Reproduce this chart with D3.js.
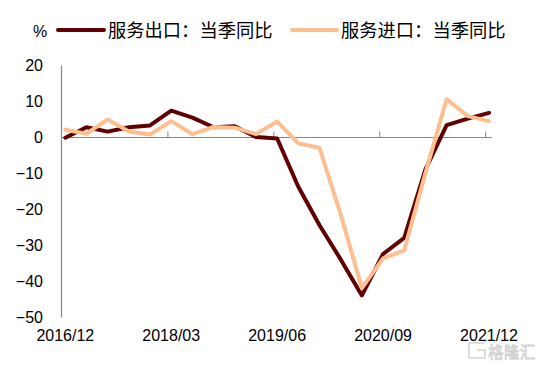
<!DOCTYPE html>
<html><head><meta charset="utf-8">
<script src="https://cdn.jsdelivr.net/npm/d3@7/dist/d3.min.js"></script>
<style>html,body{margin:0;padding:0;background:#fff}svg{display:block}</style>
</head><body><svg id="c" width="541" height="366"></svg>
<script>
const categories = ["2016/12","2017/03","2017/06","2017/09","2017/12","2018/03","2018/06","2018/09","2018/12","2019/03","2019/06","2019/09","2019/12","2020/03","2020/06","2020/09","2020/12","2021/03","2021/06","2021/09","2021/12"];
const tickLabels = ["2016/12","2018/03","2019/06","2020/09","2021/12"];
const yTicks = [20,10,0,-10,-20,-30,-40,-50];
const exportsYoY = [-0.2,2.7,1.5,2.7,3.2,7.3,5.4,2.7,3.0,0,-0.4,-13.8,-24.5,-34,-44,-32.5,-28,-9,3.3,5.1,6.7];
const importsYoY = [2,0.9,4.9,1.5,0.7,4.4,0.8,2.8,2.6,0.8,4.3,-1.8,-3,-21.5,-42,-33.7,-31.5,-10,10.5,5.8,4.4];
const seriesNames = ["服务出口：当季同比","服务进口：当季同比"];
const seriesColors = ["#600000","#FDBF8F"];

const svg = d3.select("#c");
const sans = "'Liberation Sans',Arial,sans-serif";
const cjk = "'Noto Sans CJK SC','Noto Sans',sans-serif";
const x = d3.scalePoint().domain(categories).range([65.3,489]);
const y = d3.scaleLinear().domain([-50,20]).range([317,65]);

// y axis
const gy = svg.append("g").attr("transform","translate(61,0)")
  .call(d3.axisLeft(y).tickValues(yTicks).tickSize(0).tickPadding(18).tickFormat(d3.format("d")));
gy.select(".domain").attr("stroke","#868686").attr("stroke-width",1.2);
gy.selectAll("text").attr("font-family",sans).attr("font-size",16).attr("fill","#000");

// x axis
const gx = svg.append("g").attr("transform",`translate(0,${y(0)+0.5})`);
gx.append("line").attr("x1",61).attr("x2",492).attr("stroke","#868686").attr("stroke-width",1.2);
gx.selectAll("line.t").data(tickLabels.slice(1)).join("line").attr("class","t")
  .attr("x1",d=>x(d)-3.3).attr("x2",d=>x(d)-3.3).attr("y1",0).attr("y2",-6)
  .attr("stroke","#868686").attr("stroke-width",1);
svg.append("g").selectAll("text").data(tickLabels).join("text")
  .attr("x",d=>x(d)).attr("y",341).attr("text-anchor","middle")
  .attr("font-family",sans).attr("font-size",16).attr("fill","#000").text(d=>d);

// lines
const line = d3.line().x((d,i)=>x(categories[i])).y(d=>y(d));
[exportsYoY,importsYoY].forEach((s,k)=>{
  svg.append("path").datum(s).attr("d",line).attr("fill","none")
    .attr("stroke",seriesColors[k]).attr("stroke-width",4)
    .attr("stroke-linejoin","round").attr("stroke-linecap","round");
});

// legend
svg.append("text").attr("x",40).attr("y",37).attr("text-anchor","middle")
  .attr("font-family",sans).attr("font-size",16).attr("fill","#000").text("%");
const legendX = [[58,104,108],[292,337,341]];
seriesNames.forEach((n,k)=>{
  svg.append("line").attr("x1",legendX[k][0]).attr("x2",legendX[k][1]).attr("y1",30).attr("y2",30)
    .attr("stroke",seriesColors[k]).attr("stroke-width",4).attr("stroke-linecap","round");
  svg.append("text").attr("x",legendX[k][2]).attr("y",37).attr("font-family",cjk)
    .attr("font-size",18.3).attr("fill","#000").text(n);
});

// watermark
const wm = svg.append("g").attr("fill","none").attr("stroke","#d4d4d4").attr("stroke-width",1.6);
wm.append("path").attr("d","M485 343H469V358H485V350H477");
wm.append("text").attr("x",488).attr("y",358).attr("font-family",cjk).attr("font-size",15.5)
  .attr("letter-spacing","0.4").attr("fill","#fff").attr("stroke","#cfcfcf").attr("stroke-width",0.8).text("格隆汇");
</script>
</body></html>
